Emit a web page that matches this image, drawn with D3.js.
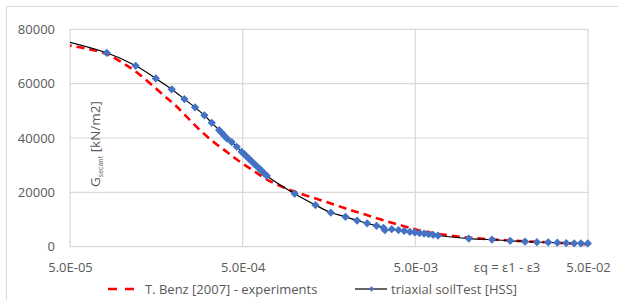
<!DOCTYPE html>
<html>
<head>
<meta charset="utf-8">
<script src="https://cdn.jsdelivr.net/npm/d3@7"></script>
<style>
  html, body { margin: 0; padding: 0; background: #fff; }
  svg { display: block; font-family: "Open Sans", "DejaVu Sans", sans-serif; }
</style>
</head>
<body>
<svg id="chart" width="618" height="300"></svg>
<script>
// ---- data ----
const xTicks = [5e-5, 5e-4, 5e-3, 5e-2];
const xTickLabels = ["5.0E-05", "5.0E-04", "5.0E-03", "5.0E-02"];
const yTicks = [0, 20000, 40000, 60000, 80000];
const yTickLabels = ["0", "20000", "40000", "60000", "80000"];
const xAxisTitle = "εq = ε1 - ε3";
const seriesNames = ["T. Benz [2007] - experiments", "triaxial soilTest [HSS]"];

// T. Benz [2007] experiments (red dashed)
const benzStrain = [4.6e-5, 6.11e-5, 8.16e-5, 1.02e-4, 1.22e-4, 1.74e-4, 2.03e-4, 2.32e-4, 2.83e-4, 3.38e-4,
  4.04e-4, 4.82e-4, 5.76e-4, 6.91e-4, 8.67e-4, 1.07e-3, 1.35e-3, 1.69e-3, 2.09e-3, 2.59e-3,
  3.20e-3, 4.07e-3, 5.32e-3, 7.93e-3, 1.13e-2, 1.84e-2, 2.88e-2, 4.91e-2];
const benzG = [74400, 72970, 70880, 67450, 64100, 55790, 52120, 48440, 42920, 38620,
  34940, 31260, 28030, 24720, 21770, 19640, 17540, 15520, 13570, 11730,
  9890, 7980, 5960, 4120, 3090, 2210, 1620, 880];

// triaxial soilTest [HSS] (black line, blue diamond markers)
const hssStrain = [4.6e-5, 8.16e-5, 1.20e-4, 1.57e-4, 1.94e-4, 2.30e-4, 2.65e-4, 3.00e-4, 3.31e-4, 3.65e-4,
  3.78e-4, 3.91e-4, 4.06e-4, 4.32e-4, 4.62e-4, 4.93e-4, 5.09e-4, 5.26e-4, 5.44e-4, 5.62e-4,
  5.81e-4, 6.01e-4, 6.22e-4, 6.43e-4, 6.64e-4, 6.89e-4, 1.00e-3, 1.32e-3, 1.62e-3, 1.97e-3,
  2.30e-3, 2.63e-3, 2.98e-3, 3.27e-3, 3.33e-3, 3.65e-3, 3.99e-3, 4.31e-3, 4.65e-3, 4.97e-3,
  5.29e-3, 5.62e-3, 5.97e-3, 6.34e-3, 6.76e-3, 1.02e-2, 1.39e-2, 1.77e-2, 2.16e-2, 2.53e-2,
  2.94e-2, 3.32e-2, 3.74e-2, 4.16e-2, 4.55e-2, 4.99e-2];
const hssG = [75800, 71350, 66570, 61940, 57930, 54320, 51270, 48330, 45610, 42920,
  41930, 40830, 39800, 38510, 36780, 34940, 34130, 33250, 32370, 31480,
  30600, 29720, 28840, 27950, 27070, 26110, 19490, 15340, 12580, 11000,
  9640, 8610, 7690, 6950, 6070, 6440, 6140, 5810, 5480, 5260,
  5040, 4820, 4600, 4380, 4120, 2980, 2610, 2170, 1910, 1660,
  1620, 1470, 1360, 1250, 1250, 1180];

// ---- drawing ----
const svg = d3.select("#chart");
const x = d3.scaleLog().domain([5e-5, 5e-2]).range([70, 588]);
const y = d3.scaleLinear().domain([0, 80000]).range([246.7, 29.3]);
const grid = "#d9d9d9";
const textCol = "#595959";

// outer chart border
svg.append("rect").attr("x", 6.5).attr("y", 6.5).attr("width", 700).attr("height", 400)
  .attr("fill", "none").attr("stroke", grid).attr("stroke-width", 1);

svg.append("defs").append("clipPath").attr("id", "plotclip")
  .append("rect").attr("x", 70).attr("y", 20).attr("width", 518).attr("height", 230);

// gridlines
svg.append("g").selectAll("line").data(yTicks).join("line")
  .attr("x1", x(5e-5)).attr("x2", x(5e-2))
  .attr("y1", d => y(d)).attr("y2", d => y(d))
  .attr("stroke", grid).attr("stroke-width", 1.2);
svg.append("g").selectAll("line").data(xTicks).join("line")
  .attr("x1", d => x(d)).attr("x2", d => x(d))
  .attr("y1", y(0)).attr("y2", y(80000))
  .attr("stroke", grid).attr("stroke-width", 1.2);

// axes (labels only)
const yAxis = d3.axisLeft(y).tickValues(yTicks).tickSize(0).tickPadding(15)
  .tickFormat((d, i) => yTickLabels[i]);
const gy = svg.append("g").attr("transform", `translate(${x(5e-5)},0)`).call(yAxis);
gy.select(".domain").remove();
gy.selectAll("text").attr("fill", textCol).style("font-size", "13px")
  .style("font-family", '"Open Sans", sans-serif');

const xAxis = d3.axisBottom(x).tickValues(xTicks).tickSize(0).tickPadding(16)
  .tickFormat((d, i) => xTickLabels[i]);
const gx = svg.append("g").attr("transform", `translate(0,${y(0)})`).call(xAxis);
gx.select(".domain").remove();
gx.selectAll("text").attr("fill", textCol).style("font-size", "13px")
  .style("font-family", '"Open Sans", sans-serif');

// x axis title
svg.append("text").attr("x", 507).attr("y", 272).attr("text-anchor", "middle")
  .attr("fill", textCol).style("font-size", "13px").text(xAxisTitle);

// y axis title
const yt = svg.append("text").attr("transform", "translate(100,187) rotate(-90)")
  .attr("fill", textCol).style("font-size", "13.5px");
yt.append("tspan").text("G");
yt.append("tspan").attr("dy", 3).style("font-size", "7px").text("secant");
yt.append("tspan").attr("dy", -3).text(" [kN/m2]");

// series
const plot = svg.append("g").attr("clip-path", "url(#plotclip)");
const benz = benzStrain.map((s, i) => ({ s, g: benzG[i] }));
const hss = hssStrain.map((s, i) => ({ s, g: hssG[i] }));
const line = d3.line().x(d => x(d.s)).y(d => y(d.g)).curve(d3.curveCatmullRom.alpha(0.5));

plot.append("path").datum(benz).attr("d", line)
  .attr("fill", "none").attr("stroke", "#ff0000").attr("stroke-width", 2.6)
  .attr("stroke-dasharray", "8,5");

plot.append("path").datum(hss).attr("d", line)
  .attr("fill", "none").attr("stroke", "#000").attr("stroke-width", 1.2);

const diamond = d3.symbol().type(d3.symbolSquare).size(34);
svg.append("g").selectAll("path").data(hss.filter(d => d.s >= 5e-5)).join("path")
  .attr("d", diamond)
  .attr("transform", d => `translate(${x(d.s)},${y(d.g)}) rotate(45)`)
  .attr("fill", "#4472c4");

// legend
const leg = svg.append("g");
leg.append("line").attr("x1", 108).attr("x2", 135).attr("y1", 289).attr("y2", 289)
  .attr("stroke", "#ff0000").attr("stroke-width", 2.6).attr("stroke-dasharray", "9,8");
leg.append("text").attr("x", 145).attr("y", 293.5).attr("fill", textCol)
  .style("font-size", "13px").text(seriesNames[0]);
leg.append("line").attr("x1", 355).attr("x2", 387).attr("y1", 289).attr("y2", 289)
  .attr("stroke", "#000").attr("stroke-width", 1.2);
leg.append("path").attr("d", d3.symbol().type(d3.symbolSquare).size(14))
  .attr("transform", "translate(371.5,289) rotate(45)").attr("fill", "#4472c4");
leg.append("text").attr("x", 391).attr("y", 293.5).attr("fill", textCol)
  .style("font-size", "13px").text(seriesNames[1]);
</script>
</body>
</html>
